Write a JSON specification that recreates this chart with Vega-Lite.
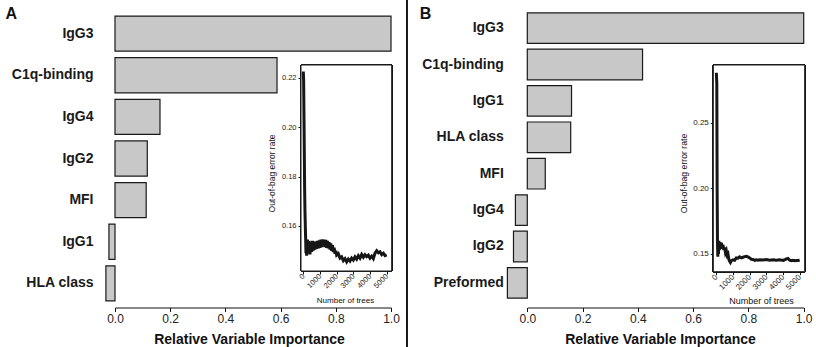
{
  "$schema": "https://vega.github.io/schema/vega-lite/v6.json",
  "width": 816,
  "height": 347,
  "autosize": {"type": "none"},
  "padding": 0,
  "background": "white",
  "config": {
    "view": {"stroke": null},
    "font": "Liberation Sans",
    "axis": {"grid": false, "labelFont": "Liberation Sans", "titleFont": "Liberation Sans", "labelFlush": false, "labelOverlap": false, "domainColor": "#111", "tickColor": "#111", "labelColor": "#222", "titleColor": "#111"}
  },
  "datasets": {
    "barsA": [
      {"variable": "IgG3", "importance": 1.0},
      {"variable": "C1q-binding", "importance": 0.587},
      {"variable": "IgG4", "importance": 0.163},
      {"variable": "IgG2", "importance": 0.117},
      {"variable": "MFI", "importance": 0.113},
      {"variable": "IgG1", "importance": -0.022},
      {"variable": "HLA class", "importance": -0.033}
    ],
    "barsB": [
      {"variable": "IgG3", "importance": 1.0},
      {"variable": "C1q-binding", "importance": 0.417},
      {"variable": "IgG1", "importance": 0.16},
      {"variable": "HLA class", "importance": 0.157},
      {"variable": "MFI", "importance": 0.065},
      {"variable": "IgG4", "importance": -0.043},
      {"variable": "IgG2", "importance": -0.05},
      {"variable": "Preformed", "importance": -0.072}
    ],
    "oobA": [
      {"trees": 1, "err": 0.2225}, {"trees": 20, "err": 0.219}, {"trees": 40, "err": 0.205}, {"trees": 60, "err": 0.19},
      {"trees": 80, "err": 0.175}, {"trees": 100, "err": 0.166}, {"trees": 120, "err": 0.16}, {"trees": 140, "err": 0.155},
      {"trees": 160, "err": 0.149}, {"trees": 180, "err": 0.152}, {"trees": 200, "err": 0.148},
      {"trees": 250, "err": 0.1545}, {"trees": 300, "err": 0.149}, {"trees": 350, "err": 0.154}, {"trees": 400, "err": 0.1485},
      {"trees": 450, "err": 0.1535}, {"trees": 500, "err": 0.1495}, {"trees": 550, "err": 0.154}, {"trees": 600, "err": 0.15},
      {"trees": 650, "err": 0.1538}, {"trees": 700, "err": 0.1505}, {"trees": 750, "err": 0.1535}, {"trees": 800, "err": 0.1508},
      {"trees": 850, "err": 0.154}, {"trees": 900, "err": 0.151}, {"trees": 950, "err": 0.1542}, {"trees": 1000, "err": 0.1512},
      {"trees": 1050, "err": 0.1545}, {"trees": 1100, "err": 0.1515}, {"trees": 1150, "err": 0.1546}, {"trees": 1200, "err": 0.1518},
      {"trees": 1250, "err": 0.1545}, {"trees": 1300, "err": 0.1515}, {"trees": 1350, "err": 0.1544}, {"trees": 1400, "err": 0.1512},
      {"trees": 1450, "err": 0.154}, {"trees": 1500, "err": 0.151}, {"trees": 1550, "err": 0.1535}, {"trees": 1600, "err": 0.1505},
      {"trees": 1650, "err": 0.153}, {"trees": 1700, "err": 0.15}, {"trees": 1750, "err": 0.1522}, {"trees": 1800, "err": 0.1495},
      {"trees": 1850, "err": 0.1512}, {"trees": 1900, "err": 0.1488}, {"trees": 1950, "err": 0.15}, {"trees": 2000, "err": 0.1482},
      {"trees": 2100, "err": 0.1488}, {"trees": 2200, "err": 0.147}, {"trees": 2300, "err": 0.1475}, {"trees": 2400, "err": 0.146},
      {"trees": 2500, "err": 0.1468}, {"trees": 2600, "err": 0.1455}, {"trees": 2700, "err": 0.1466}, {"trees": 2800, "err": 0.1458},
      {"trees": 2900, "err": 0.147}, {"trees": 3000, "err": 0.1462}, {"trees": 3100, "err": 0.1475}, {"trees": 3200, "err": 0.1466},
      {"trees": 3300, "err": 0.148}, {"trees": 3400, "err": 0.147}, {"trees": 3500, "err": 0.1485}, {"trees": 3600, "err": 0.1474},
      {"trees": 3700, "err": 0.1484}, {"trees": 3800, "err": 0.1476}, {"trees": 3900, "err": 0.1482}, {"trees": 4000, "err": 0.147},
      {"trees": 4100, "err": 0.1478}, {"trees": 4200, "err": 0.1468}, {"trees": 4300, "err": 0.149}, {"trees": 4400, "err": 0.15},
      {"trees": 4500, "err": 0.1492}, {"trees": 4600, "err": 0.1496}, {"trees": 4700, "err": 0.1484}, {"trees": 4800, "err": 0.149},
      {"trees": 4900, "err": 0.148}, {"trees": 5000, "err": 0.1483}
    ],
    "oobB": [
      {"trees": 1, "err": 0.288}, {"trees": 30, "err": 0.28}, {"trees": 50, "err": 0.2}, {"trees": 70, "err": 0.16},
      {"trees": 90, "err": 0.148}, {"trees": 110, "err": 0.159}, {"trees": 130, "err": 0.15}, {"trees": 150, "err": 0.16},
      {"trees": 180, "err": 0.153}, {"trees": 210, "err": 0.159}, {"trees": 250, "err": 0.154}, {"trees": 300, "err": 0.1585},
      {"trees": 350, "err": 0.1545}, {"trees": 400, "err": 0.157}, {"trees": 450, "err": 0.153}, {"trees": 500, "err": 0.155},
      {"trees": 550, "err": 0.151}, {"trees": 600, "err": 0.1525}, {"trees": 650, "err": 0.149}, {"trees": 700, "err": 0.15},
      {"trees": 750, "err": 0.146}, {"trees": 800, "err": 0.1445}, {"trees": 850, "err": 0.1435}, {"trees": 900, "err": 0.1448},
      {"trees": 1000, "err": 0.1455}, {"trees": 1100, "err": 0.1452}, {"trees": 1200, "err": 0.147}, {"trees": 1300, "err": 0.1468},
      {"trees": 1400, "err": 0.1478}, {"trees": 1500, "err": 0.147}, {"trees": 1600, "err": 0.1475}, {"trees": 1700, "err": 0.148},
      {"trees": 1800, "err": 0.1482}, {"trees": 1900, "err": 0.1478}, {"trees": 2000, "err": 0.147}, {"trees": 2100, "err": 0.146},
      {"trees": 2200, "err": 0.1458}, {"trees": 2300, "err": 0.1452}, {"trees": 2400, "err": 0.1456}, {"trees": 2500, "err": 0.1452},
      {"trees": 2600, "err": 0.1456}, {"trees": 2800, "err": 0.1454}, {"trees": 3000, "err": 0.1457}, {"trees": 3200, "err": 0.1453},
      {"trees": 3400, "err": 0.1456}, {"trees": 3600, "err": 0.1452}, {"trees": 3800, "err": 0.1455}, {"trees": 4000, "err": 0.1451},
      {"trees": 4100, "err": 0.1456}, {"trees": 4200, "err": 0.1462}, {"trees": 4300, "err": 0.1466}, {"trees": 4400, "err": 0.1452},
      {"trees": 4500, "err": 0.1448}, {"trees": 4600, "err": 0.1452}, {"trees": 4700, "err": 0.1449}, {"trees": 4800, "err": 0.1451},
      {"trees": 4900, "err": 0.145}, {"trees": 5000, "err": 0.1453}
    ]
  },
  "layer": [
    {
      "data": {"name": "barsA"},
      "mark": {"type": "bar", "fill": "#c8c8c8", "stroke": "#1a1a1a", "strokeWidth": 1.2},
      "encoding": {
        "x": {
          "field": "importance", "type": "quantitative",
          "scale": {"domain": [0, 1], "range": [115, 391], "nice": false, "zero": false},
          "axis": {"orient": "bottom", "offset": -39.5, "values": [0, 0.2, 0.4, 0.6, 0.8, 1], "format": ".1f",
                   "labelFontSize": 12, "tickSize": 4, "labelPadding": 2,
                   "title": "Relative Variable Importance", "titleFontSize": 14, "titleFontWeight": "bold",
                   "titleBaseline": "alphabetic", "titleY": 35.5, "titleX": 249}
        },
        "y": {
          "field": "variable", "type": "nominal", "sort": null,
          "scale": {"range": [9, 308], "paddingInner": 0.157, "paddingOuter": 0.17},
          "axis": {"orient": "left", "offset": -115, "domain": false, "ticks": false, "labelPadding": 22,
                   "labelFontSize": 14, "labelFontWeight": "bold", "labelColor": "#1a1a1a",
                   "title": "A", "titleAngle": 0, "titleAlign": "left", "titleBaseline": "alphabetic",
                   "titleX": -110, "titleY": 18.5, "titleFontSize": 16, "titleFontWeight": "bold"}
        }
      }
    },
    {
      "data": {"name": "oobA"},
      "mark": {"type": "rect", "fill": "white", "stroke": "#1a1a1a", "strokeWidth": 1},
      "encoding": {
        "x": {"datum": -138, "type": "quantitative",
              "scale": {"domain": [-138, 5300], "range": [301, 391.7], "nice": false, "zero": false},
              "axis": {"orient": "bottom", "offset": -76, "domain": false, "values": [0, 1000, 2000, 3000, 4000, 5000], "format": "d",
                       "labelAngle": -45, "labelAlign": "right", "labelBaseline": "middle", "labelFontSize": 7.5,
                       "tickSize": 3, "labelPadding": 1,
                       "title": "Number of trees", "titleFontSize": 8, "titleFontWeight": "normal",
                       "titleBaseline": "alphabetic", "titleY": 31, "titleX": 345}},
        "x2": {"datum": 5300},
        "y": {"datum": 0.1418, "type": "quantitative",
              "scale": {"domain": [0.1418, 0.2251], "range": [271, 65], "nice": false, "zero": false},
              "axis": {"orient": "left", "offset": -301, "domain": false, "values": [0.16, 0.18, 0.2, 0.22], "format": ".2f",
                       "labelFontSize": 7.5, "tickSize": 3, "labelPadding": 2,
                       "title": "Out-of-bag error rate", "titleFontSize": 8.5, "titleFontWeight": "normal",
                       "titleAngle": -90, "titleBaseline": "bottom", "titleAlign": "center", "titleX": -24.5, "titleY": 173}},
        "y2": {"datum": 0.2251}
      }
    },
    {
      "data": {"name": "oobA"},
      "mark": {"type": "line", "color": "#161616", "strokeWidth": 3},
      "encoding": {
        "x": {"field": "trees", "type": "quantitative",
              "scale": {"domain": [-138, 5300], "range": [301, 391.7], "nice": false, "zero": false}, "axis": null},
        "y": {"field": "err", "type": "quantitative",
              "scale": {"domain": [0.1418, 0.2251], "range": [271, 65], "nice": false, "zero": false}, "axis": null}
      }
    },
    {
      "data": {"name": "barsB"},
      "mark": {"type": "bar", "fill": "#c8c8c8", "stroke": "#1a1a1a", "strokeWidth": 1.2},
      "encoding": {
        "x": {
          "field": "importance", "type": "quantitative",
          "scale": {"domain": [0, 1], "range": [527.3, 803.7], "nice": false, "zero": false},
          "axis": {"orient": "bottom", "offset": -39.5, "values": [0, 0.2, 0.4, 0.6, 0.8, 1], "format": ".1f",
                   "labelFontSize": 12, "tickSize": 4, "labelPadding": 2,
                   "title": "Relative Variable Importance", "titleFontSize": 14, "titleFontWeight": "bold",
                   "titleBaseline": "alphabetic", "titleY": 35.5, "titleX": 660}
        },
        "y": {
          "field": "variable", "type": "nominal", "sort": null,
          "scale": {"range": [3, 308], "paddingInner": 0.16, "paddingOuter": 0.27},
          "axis": {"orient": "left", "offset": -527.3, "domain": false, "ticks": false, "labelPadding": 24,
                   "labelFontSize": 14, "labelFontWeight": "bold", "labelColor": "#1a1a1a",
                   "title": "B", "titleAngle": 0, "titleAlign": "left", "titleBaseline": "alphabetic",
                   "titleX": -108, "titleY": 18.5, "titleFontSize": 16, "titleFontWeight": "bold"}
        }
      }
    },
    {
      "data": {"name": "barsB"},
      "mark": {"type": "rule", "color": "#111", "strokeWidth": 1},
      "encoding": {
        "x": {"datum": -0.436, "type": "quantitative",
              "scale": {"domain": [0, 1], "range": [527.3, 803.7], "nice": false, "zero": false}, "axis": null}
      }
    },
    {
      "data": {"name": "oobB"},
      "mark": {"type": "rect", "fill": "white", "stroke": "#1a1a1a", "strokeWidth": 1},
      "encoding": {
        "x": {"datum": -180, "type": "quantitative",
              "scale": {"domain": [-180, 5300], "range": [713.3, 804.7], "nice": false, "zero": false},
              "axis": {"orient": "bottom", "offset": -75.3, "domain": false, "values": [0, 1000, 2000, 3000, 4000, 5000], "format": "d",
                       "labelAngle": -45, "labelAlign": "right", "labelBaseline": "middle", "labelFontSize": 8,
                       "tickSize": 3, "labelPadding": 1,
                       "title": "Number of trees", "titleFontSize": 9, "titleFontWeight": "normal",
                       "titleBaseline": "alphabetic", "titleY": 32, "titleX": 761}},
        "x2": {"datum": 5300},
        "y": {"datum": 0.1365, "type": "quantitative",
              "scale": {"domain": [0.1365, 0.2939], "range": [271.7, 65], "nice": false, "zero": false},
              "axis": {"orient": "left", "offset": -713.3, "domain": false, "values": [0.15, 0.2, 0.25], "format": ".2f",
                       "labelFontSize": 8, "tickSize": 3, "labelPadding": 2,
                       "title": "Out-of-bag error rate", "titleFontSize": 8.7, "titleFontWeight": "normal",
                       "titleAngle": -90, "titleBaseline": "bottom", "titleAlign": "center", "titleX": -25.3, "titleY": 173}},
        "y2": {"datum": 0.2939}
      }
    },
    {
      "data": {"name": "oobB"},
      "mark": {"type": "line", "color": "#161616", "strokeWidth": 3},
      "encoding": {
        "x": {"field": "trees", "type": "quantitative",
              "scale": {"domain": [-180, 5300], "range": [713.3, 804.7], "nice": false, "zero": false}, "axis": null},
        "y": {"field": "err", "type": "quantitative",
              "scale": {"domain": [0.1365, 0.2939], "range": [271.7, 65], "nice": false, "zero": false}, "axis": null}
      }
    }
  ],
  "resolve": {
    "scale": {"x": "independent", "y": "independent"},
    "axis": {"x": "independent", "y": "independent"}
  }
}
